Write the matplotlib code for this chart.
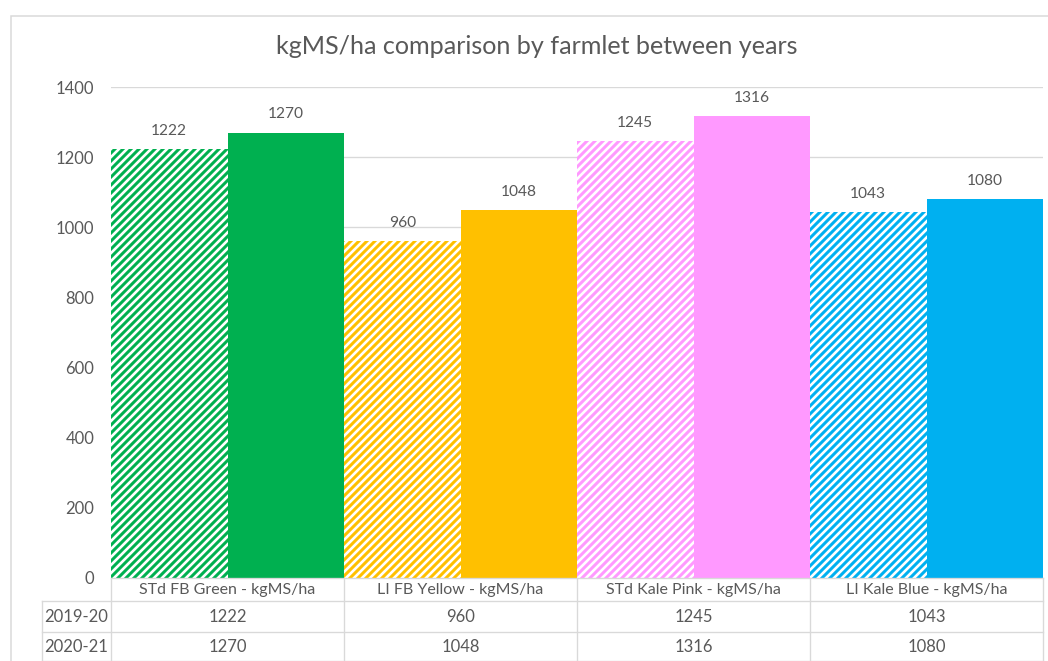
import matplotlib
matplotlib.use("Agg")
import matplotlib.pyplot as plt
from matplotlib.lines import Line2D
from matplotlib.patches import Rectangle
import numpy as np

# Farmlet production data (kgMS/ha)
categories = ["STd FB Green - kgMS/ha", "LI FB Yellow - kgMS/ha",
              "STd Kale Pink - kgMS/ha", "LI Kale Blue - kgMS/ha"]
seasons = ["2019-20", "2020-21"]
values_2019_20 = [1222, 960, 1245, 1043]
values_2020_21 = [1270, 1048, 1316, 1080]
farmlet_colors = ["#00B050", "#FFC000", "#FF99FF", "#00B0F0"]
y_ticks = [0, 200, 400, 600, 800, 1000, 1200, 1400]

TEXT = "#595959"
LINE = "#D9D9D9"

plt.rcParams["font.family"] = ["Lato", "DejaVu Sans"]
plt.rcParams["hatch.linewidth"] = 1.8

DPI = 120
W, H = 1048, 661
fig = plt.figure(figsize=(W / DPI, H / DPI), dpi=DPI)
fig.patch.set_facecolor("white")

# plot area in pixel terms
left_px, right_px, top_px, base_px = 111, 1043, 87, 578
ax = fig.add_axes([left_px / W, 1 - base_px / H,
                   (right_px - left_px) / W, (base_px - top_px) / H])

x = np.arange(len(categories))
bw = 0.5
bars_prev = ax.bar(x - bw / 2, values_2019_20, width=bw, facecolor="white",
                   edgecolor=farmlet_colors, hatch="/////", linewidth=0, zorder=2)
bars_curr = ax.bar(x + bw / 2, values_2020_21, width=bw, color=farmlet_colors,
                   linewidth=0, zorder=2)

ax.bar_label(bars_prev, padding=7, fontsize=9.3, color=TEXT)
ax.bar_label(bars_curr, padding=7, fontsize=9.3, color=TEXT)

ax.set_xlim(-0.5, len(categories) - 0.5)
ax.set_ylim(0, 1400)
ax.set_yticks(y_ticks)
ax.set_yticklabels([str(v) for v in y_ticks], fontsize=10, color=TEXT)
ax.tick_params(axis="y", length=0, pad=10)
ax.set_xticks([])
ax.yaxis.grid(True, color=LINE, linewidth=0.8)
ax.set_axisbelow(True)
for s in ax.spines.values():
    s.set_visible(False)

fig.text(537 / W, 1 - 47 / H,
         "kgMS/ha comparison by farmlet between years",
         ha="center", va="center", fontsize=15.1, color=TEXT)

# data table under the plot
ph = base_px - top_px


def yfrac(px):
    return (base_px - px) / ph


tr = ax.get_xaxis_transform()
row_edges = [578, 601, 632, 661]
label_left = -0.5 - (left_px - 42) / ((right_px - left_px) / len(categories))

def hline(x0, x1, ypx):
    ax.add_line(Line2D([x0, x1], [yfrac(ypx)] * 2, transform=tr, color=LINE,
                       linewidth=0.8, clip_on=False))

def vline(xv, y0px, y1px):
    ax.add_line(Line2D([xv, xv], [yfrac(y0px), yfrac(y1px)], transform=tr,
                       color=LINE, linewidth=0.8, clip_on=False))

hline(-0.5, len(categories) - 0.5, row_edges[0])
for ypx in row_edges[1:]:
    hline(label_left, len(categories) - 0.5, ypx)
for b in np.arange(len(categories) + 1) - 0.5:
    vline(b, row_edges[0], row_edges[-1])
vline(label_left, row_edges[1], row_edges[-1])

for i, name in enumerate(categories):
    ax.text(x[i], yfrac(590), name, transform=tr, ha="center", va="center",
            fontsize=9.6, color=TEXT, clip_on=False)
for r, (season, vals) in enumerate(zip(seasons, [values_2019_20, values_2020_21])):
    ymid = yfrac(0.5 * (row_edges[r + 1] + row_edges[r + 2]))
    ax.text(0.5 * (label_left - 0.5), ymid, season, transform=tr, ha="center",
            va="center", fontsize=10, color=TEXT, clip_on=False)
    for i, v in enumerate(vals):
        ax.text(x[i], ymid, str(v), transform=tr, ha="center", va="center",
                fontsize=10, color=TEXT, clip_on=False)

# chart frame
fig.add_artist(Rectangle((11 / W, -0.05), 1.2, 1 - 16 / H + 0.05,
                         transform=fig.transFigure, facecolor="none",
                         edgecolor=LINE, linewidth=0.9))

fig.savefig("out.png", dpi=DPI)
